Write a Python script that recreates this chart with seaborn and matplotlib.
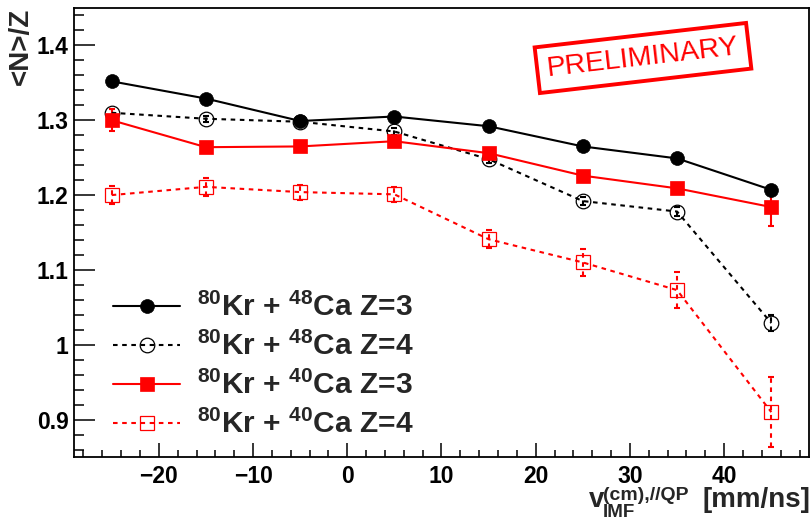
import matplotlib
matplotlib.use("Agg")
import matplotlib.pyplot as plt
from matplotlib import font_manager
import seaborn as sns
import pandas as pd

# velocity bins [mm/ns]
v_imf = [-25, -15, -5, 5, 15, 25, 35, 45]

kr48_z3 = [1.352, 1.329, 1.299, 1.305, 1.292, 1.265, 1.249, 1.207]
kr48_z3_err = [0.004, 0.004, 0.004, 0.004, 0.004, 0.004, 0.005, 0.007]
kr48_z4 = [1.310, 1.302, 1.298, 1.285, 1.248, 1.192, 1.178, 1.029]
kr48_z4_err = [0.005, 0.004, 0.004, 0.005, 0.005, 0.005, 0.006, 0.011]
kr40_z3 = [1.300, 1.264, 1.265, 1.272, 1.256, 1.226, 1.209, 1.184]
kr40_z3_err = [0.015, 0.005, 0.005, 0.005, 0.005, 0.005, 0.006, 0.025]
kr40_z4 = [1.200, 1.211, 1.204, 1.201, 1.141, 1.110, 1.073, 0.910]
kr40_z4_err = [0.012, 0.012, 0.010, 0.010, 0.012, 0.018, 0.024, 0.047]

labels = [r"$^{80}$Kr + $^{48}$Ca Z=3", r"$^{80}$Kr + $^{48}$Ca Z=4",
          r"$^{80}$Kr + $^{40}$Ca Z=3", r"$^{80}$Kr + $^{40}$Ca Z=4"]

sns.set_style("ticks")
plt.rcParams['font.family'] = ['Liberation Sans', 'DejaVu Sans']
plt.rcParams['font.weight'] = 'bold'
plt.rcParams['mathtext.fontset'] = 'custom'
plt.rcParams['mathtext.rm'] = 'Liberation Sans:bold'
plt.rcParams['mathtext.it'] = 'Liberation Sans:bold'
plt.rcParams['mathtext.bf'] = 'Liberation Sans:bold'

W, H = 812, 521
fig = plt.figure(figsize=(W/100, H/100), dpi=100)
ax = fig.add_axes([74/W, 1-457/H, (809-74)/W, (457-8)/H])

dash = (0, (2.2, 2.2))
series = [
    (kr48_z3, kr48_z3_err, 'black', 'o', 'black', '-'),
    (kr48_z4, kr48_z4_err, 'black', 'o', 'none', dash),
    (kr40_z3, kr40_z3_err, 'red', 's', 'red', '-'),
    (kr40_z4, kr40_z4_err, 'red', 's', 'none', dash),
]

for (y, err, col, mk, fc, ls), lab in zip(series, labels):
    df = pd.DataFrame({'v': v_imf, 'ratio': y})
    eb = ax.errorbar(df['v'], df['ratio'], yerr=err, fmt='none', ecolor=col,
                     elinewidth=1.5, capsize=2, capthick=1.5, zorder=2)
    if ls != '-':
        eb[2][0].set_linestyle(ls)
    sns.lineplot(data=df, x='v', y='ratio', ax=ax, color=col, linestyle=ls, linewidth=1.5,
                 marker=mk, markersize=10 if fc != 'none' else 10.5,
                 markerfacecolor=fc, markeredgecolor=col,
                 markeredgewidth=0.9 if fc == 'none' else 0.5,
                 label=lab, errorbar=None, zorder=3)

ax.set_xlim(-29, 49)
ax.set_ylim(0.85, 1.45)
ax.set_xticks(range(-20, 50, 10))
ax.set_xticklabels(['\u221220', '\u221210', '0', '10', '20', '30', '40'])
ax.set_xticks(range(-28, 49, 2), minor=True)
ax.set_yticks([0.9, 1.0, 1.1, 1.2, 1.3, 1.4])
ax.set_yticklabels(['0.9', '1', '1.1', '1.2', '1.3', '1.4'])
ax.set_yticks([0.86 + 0.02*i for i in range(30)], minor=True)
ax.tick_params(axis='both', which='both', direction='in', top=False, right=False,
               labelsize=16.5, width=1.1, colors='black')
ax.tick_params(axis='x', which='major', length=10, pad=6)
ax.tick_params(axis='x', which='minor', length=5)
ax.tick_params(axis='y', which='major', length=15, pad=4)
ax.tick_params(axis='y', which='minor', length=7.5)
for sp in ax.spines.values():
    sp.set_linewidth(1.3)
    sp.set_color('black')

ax.set_xlabel("")
ax.set_ylabel("<N>/Z", loc='top', fontsize=20, fontweight='bold', labelpad=2)

# x-axis title: v_IMF^{(cm),//QP} [mm/ns]
def ptext(x, y, s, **kw):
    return fig.text(x/W, 1-y/H, s, va='baseline', fontweight='bold', **kw)

ptext(589, 507, "v", fontsize=20)
ptext(603, 500.5, "(cm),//QP", fontsize=14)
ptext(603, 517, "IMF", fontsize=13.5)
ptext(810, 507, "[mm/ns]", fontsize=20, ha='right')

ax.legend(loc='upper left', bbox_to_anchor=(0.053, 0.365), frameon=False,
          prop={'size': 21.5, 'weight': 'bold'}, handlelength=2.25,
          handletextpad=0.57, labelspacing=0.33, borderaxespad=0, borderpad=0)

names = {f.name for f in font_manager.fontManager.ttflist}
if 'Liberation Sans Narrow' in names:
    stamp_font, stamp_size = 'Liberation Sans Narrow', 24
else:
    stamp_font, stamp_size = 'Liberation Sans', 20.5
fig.text(643/W, 1-58/H, "PRELIMINARY", family=stamp_font, fontsize=stamp_size,
         fontweight='normal', color='red', rotation=6.6, ha='center', va='center',
         rotation_mode='anchor',
         bbox=dict(boxstyle='square,pad=0.35', fc='none', ec='red', lw=2.8))

fig.savefig("out.png", dpi=100)
